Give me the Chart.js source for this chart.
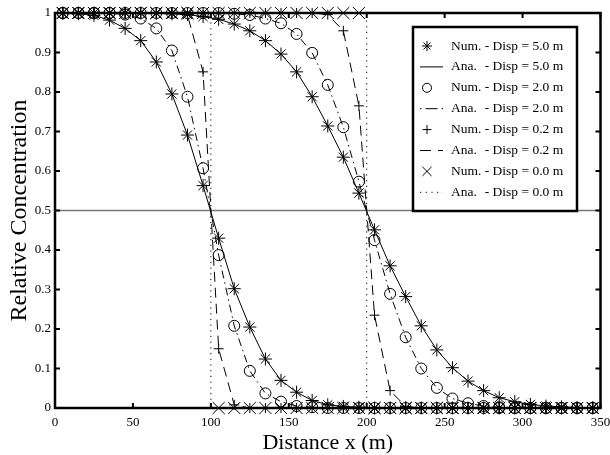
<!DOCTYPE html>
<html>
<head>
<meta charset="utf-8">
<script src="https://cdn.jsdelivr.net/npm/chart.js@4.4.1/dist/chart.umd.min.js"></script>
<style>
  html, body { margin: 0; padding: 0; background: #fff; }
</style>
</head>
<body>
<canvas id="myChart" width="610" height="455"></canvas>
<script>
// grid points (m)
const xs = [5, 15, 25, 35, 45, 55, 65, 75, 85, 95, 105, 115, 125, 135, 145, 155, 165, 175,
  185, 195, 205, 215, 225, 235, 245, 255, 265, 275, 285, 295, 305, 315, 325, 335, 345];

// front at 100 m (T1) and at 200 m (T2)
const disp5T1 = [0.999, 0.998, 0.994, 0.982, 0.961, 0.930, 0.876, 0.795, 0.691, 0.563, 0.430, 0.302,
  0.205, 0.124, 0.070, 0.040, 0.019, 0.008, 0.004, 0.002, 0, 0, 0, 0, 0, 0, 0, 0, 0, 0, 0, 0, 0, 0, 0];
const disp5T2 = [1, 1, 1, 1, 1, 1, 0.999, 0.998, 0.996, 0.991, 0.984, 0.972, 0.955, 0.930, 0.896, 0.851,
  0.788, 0.714, 0.635, 0.544, 0.451, 0.360, 0.282, 0.208, 0.147, 0.102, 0.068, 0.044, 0.026, 0.016,
  0.009, 0.005, 0.003, 0.001, 0.001];
const disp2T1 = [1, 1, 1, 1, 0.996, 0.986, 0.961, 0.905, 0.788, 0.607, 0.387, 0.208, 0.094, 0.037,
  0.016, 0.005, 0.002, 0, 0, 0, 0, 0, 0, 0, 0, 0, 0, 0, 0, 0, 0, 0, 0, 0, 0];
const disp2T2 = [1, 1, 1, 1, 1, 1, 1, 1, 1, 1, 1, 0.998, 0.995, 0.986, 0.974, 0.947, 0.899, 0.818,
  0.711, 0.573, 0.425, 0.289, 0.179, 0.100, 0.051, 0.024, 0.012, 0.005, 0.002, 0, 0, 0, 0, 0, 0];
const disp02T1 = [1, 1, 1, 1, 1, 1, 1, 1, 0.995, 0.851, 0.150, 0.008, 0, 0, 0, 0, 0, 0, 0, 0, 0, 0,
  0, 0, 0, 0, 0, 0, 0, 0, 0, 0, 0, 0, 0];
const disp02T2 = [1, 1, 1, 1, 1, 1, 1, 1, 1, 1, 1, 1, 1, 1, 1, 1, 1, 0.996, 0.955, 0.765, 0.235,
  0.044, 0.004, 0, 0, 0, 0, 0, 0, 0, 0, 0, 0, 0, 0];
const disp0T1 = [1, 1, 1, 1, 1, 1, 1, 1, 1, 1, 0, 0, 0, 0, 0, 0, 0, 0, 0, 0, 0, 0, 0, 0, 0, 0, 0, 0,
  0, 0, 0, 0, 0, 0, 0];
const disp0T2 = [1, 1, 1, 1, 1, 1, 1, 1, 1, 1, 1, 1, 1, 1, 1, 1, 1, 1, 1, 1, 0, 0, 0, 0, 0, 0, 0, 0,
  0, 0, 0, 0, 0, 0, 0];

// sharp front (no dispersion) analytical step
const stepX1 = [0, 100, 100, 350];
const stepX2 = [0, 200, 200, 350];
const stepY = [1, 1, 0, 0];

const halfX = [0, 350];
const halfY = [0.5, 0.5];

const xTicks = [0, 50, 100, 150, 200, 250, 300, 350];
const yTicks = [0, 0.1, 0.2, 0.3, 0.4, 0.5, 0.6, 0.7, 0.8, 0.9, 1];

const legendLabels = [
  ["Num.", "- Disp = 5.0 m"], ["Ana.", "- Disp = 5.0 m"],
  ["Num.", "- Disp = 2.0 m"], ["Ana.", "- Disp = 2.0 m"],
  ["Num.", "- Disp = 0.2 m"], ["Ana.", "- Disp = 0.2 m"],
  ["Num.", "- Disp = 0.0 m"], ["Ana.", "- Disp = 0.0 m"]
];

const SERIF = "'Liberation Serif', 'Times New Roman', serif";
const DASH_DOT = [8, 4, 1.5, 4];
const DASHED = [10, 6];
const DOTTED = [1.2, 4.5];

function pts(xv, yv) {
  return xv.map((x, i) => ({ x: x, y: yv[i] }));
}
function num(vals, style, r) {
  return {
    data: pts(xs, vals), showLine: false, pointStyle: style, pointRadius: r,
    pointBorderColor: "#000", pointBackgroundColor: "rgba(0,0,0,0)", pointBorderWidth: 1,
    clip: false
  };
}
function ana(xv, yv, dash) {
  return {
    data: pts(xv, yv), showLine: true, pointRadius: 0, borderColor: "#000",
    borderWidth: 1, borderDash: dash, fill: false, tension: 0
  };
}

const datasets = [
  num(disp5T1, "star", 6.5), num(disp5T2, "star", 6.5),
  ana(xs, disp5T1, []), ana(xs, disp5T2, []),
  num(disp2T1, "circle", 5.5), num(disp2T2, "circle", 5.5),
  ana(xs, disp2T1, DASH_DOT), ana(xs, disp2T2, DASH_DOT),
  num(disp02T1, "cross", 5), num(disp02T2, "cross", 5),
  ana(xs, disp02T1, DASHED), ana(xs, disp02T2, DASHED),
  num(disp0T1, "crossRot", 8.5), num(disp0T2, "crossRot", 8.5),
  ana(stepX1, stepY, DOTTED), ana(stepX2, stepY, DOTTED),
  { data: pts(halfX, halfY), showLine: true, pointRadius: 0, borderColor: "#777", borderWidth: 1.5 }
];

function drawMarker(ctx, style, cx, cy, r) {
  ctx.beginPath();
  if (style === "circle") ctx.arc(cx, cy, r, 0, Math.PI * 2);
  if (style === "cross" || style === "star") {
    ctx.moveTo(cx - r, cy); ctx.lineTo(cx + r, cy);
    ctx.moveTo(cx, cy - r); ctx.lineTo(cx, cy + r);
  }
  if (style === "crossRot" || style === "star") {
    const d = r * Math.SQRT1_2;
    ctx.moveTo(cx - d, cy - d); ctx.lineTo(cx + d, cy + d);
    ctx.moveTo(cx - d, cy + d); ctx.lineTo(cx + d, cy - d);
  }
  ctx.stroke();
}

const frame = {
  id: "frame",
  afterDatasetsDraw(chart) {
    const { ctx, chartArea: a, scales: { x, y } } = chart;
    ctx.save();
    ctx.strokeStyle = "#000";
    ctx.lineWidth = 2;
    ctx.beginPath();
    yTicks.forEach(v => {
      const py = y.getPixelForValue(v);
      ctx.moveTo(a.left, py); ctx.lineTo(a.left + 5, py);
      ctx.moveTo(a.right, py); ctx.lineTo(a.right - 5, py);
    });
    xTicks.forEach(v => {
      const px = x.getPixelForValue(v);
      ctx.moveTo(px, a.bottom); ctx.lineTo(px, a.bottom - 5);
      ctx.moveTo(px, a.top); ctx.lineTo(px, a.top + 5);
    });
    ctx.stroke();
    ctx.lineWidth = 2.5;
    ctx.strokeRect(a.left, a.top, a.right - a.left, a.bottom - a.top);
    ctx.restore();
  },
  afterDraw(chart) {
    const ctx = chart.ctx;
    const bx = 413, by = 27, bw = 164, bh = 184;
    ctx.save();
    ctx.fillStyle = "#fff";
    ctx.fillRect(bx, by, bw, bh);
    ctx.strokeStyle = "#000";
    ctx.lineWidth = 2.5;
    ctx.strokeRect(bx, by, bw, bh);

    const styles = ["star", null, "circle", null, "cross", null, "crossRot", null];
    const radii = [5, 0, 4.5, 0, 4.5, 0, 6.5, 0];
    const dashes = [null, [], null, [1.5, 4, 12, 4], null, [11, 7], null, DOTTED];
    ctx.font = "13.5px " + SERIF;
    ctx.textBaseline = "middle";
    ctx.fillStyle = "#000";
    const off = ctx.measureText("Num. ").width;
    legendLabels.forEach((lab, i) => {
      const ry = 46 + i * 20.9;
      ctx.lineWidth = 1;
      if (styles[i]) {
        ctx.setLineDash([]);
        drawMarker(ctx, styles[i], 427, ry, radii[i]);
      } else {
        ctx.setLineDash(dashes[i]);
        ctx.beginPath();
        ctx.moveTo(420, ry); ctx.lineTo(443, ry);
        ctx.stroke();
        ctx.setLineDash([]);
      }
      ctx.fillText(lab[0], 451, ry);
      ctx.fillText(lab[1], 451 + off, ry);
    });
    ctx.restore();
  }
};

const ctx = document.getElementById("myChart");
const myChart = new Chart(ctx, {
  type: "scatter",
  data: { datasets: datasets },
  options: {
    responsive: false,
    animation: false,
    layout: { padding: { top: 13, right: 9, left: 0, bottom: 0 } },
    plugins: { legend: { display: false }, tooltip: { enabled: false } },
    scales: {
      x: {
        type: "linear", min: 0, max: 350,
        grid: { display: false, drawTicks: false }, border: { display: false },
        ticks: { stepSize: 50, padding: 7, maxRotation: 0, autoSkip: false, color: "#000",
          font: { family: SERIF, size: 13 } },
        title: { display: true, text: "Distance x (m)", color: "#000",
          font: { family: SERIF, size: 22, lineHeight: 1 }, padding: { top: 0, bottom: 1 } },
        afterFit(s) { s.height = 47; s.paddingLeft = 0; s.paddingRight = 0; }
      },
      y: {
        type: "linear", min: 0, max: 1,
        grid: { display: false, drawTicks: false }, border: { display: false },
        ticks: { stepSize: 0.1, padding: 4, color: "#000", font: { family: SERIF, size: 13 },
          callback: v => String(Math.round(v * 10) / 10) },
        title: { display: true, text: "Relative Concentration", color: "#000",
          font: { family: SERIF, size: 24, lineHeight: 1 }, padding: { top: 8, bottom: 0 } },
        afterFit(s) { s.width = 55; s.paddingTop = 0; s.paddingBottom = 0; }
      }
    }
  },
  plugins: [frame]
});
</script>
</body>
</html>
